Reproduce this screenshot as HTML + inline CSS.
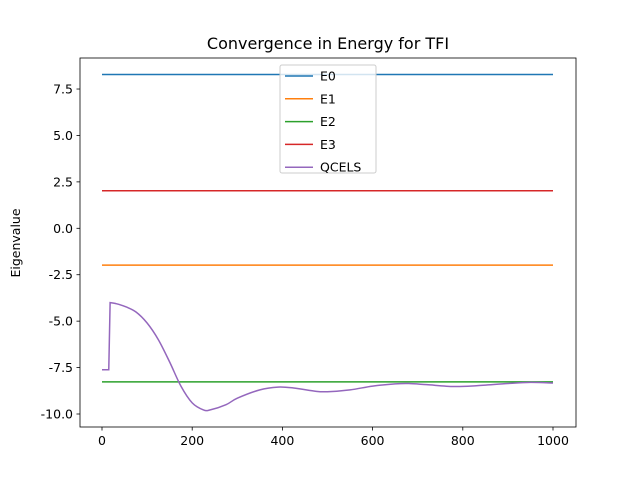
<!DOCTYPE html>
<html><head><meta charset="utf-8"><style>
body{margin:0;background:#fff}
svg text{font-family:"DejaVu Sans","Liberation Sans",sans-serif;fill:#000}
</style></head><body>
<svg id="chart" width="640" height="480" xmlns="http://www.w3.org/2000/svg">
<rect width="640" height="480" fill="#fff"/>
<text x="328" y="49" font-size="16" text-anchor="middle">Convergence in Energy for TFI</text>
<text transform="translate(20,243) rotate(-90)" font-size="12.5" text-anchor="middle">Eigenvalue</text>
<g id="plot"></g>
</svg>
<script>
const xTicks=[0,200,400,600,800,1000];
const yTicks=[-10,-7.5,-5,-2.5,0,2.5,5,7.5];
const levelNames=["E0","E1","E2","E3"];
const levelValues=[8.28,-1.98,-8.27,2.02];
const colors=["#1f77b4","#ff7f0e","#2ca02c","#d62728","#9467bd"];
const qX=[0,15,18,30,50,75,100,125,150,175,200,225,240,275,300,350,390,425,475,500,550,600,650,680,720,780,830,900,950,1000];
const qY=[-7.62,-7.62,-4.0,-4.05,-4.2,-4.5,-5.1,-6.0,-7.2,-8.5,-9.4,-9.78,-9.78,-9.5,-9.15,-8.7,-8.55,-8.6,-8.78,-8.8,-8.7,-8.5,-8.38,-8.36,-8.42,-8.52,-8.48,-8.36,-8.3,-8.33];
const NS="http://www.w3.org/2000/svg";
const L=80,R=576,T=58,B=427;
const sx=v=>102+v*(553-102)/1000;
const sy=v=>228.3-v*18.57;
const g=document.getElementById('plot');
function mk(t,a,p){const e=document.createElementNS(NS,t);for(const k in a)e.setAttribute(k,a[k]);(p||g).appendChild(e);return e;}
levelValues.forEach((v,i)=>{
  const l=mk('line',{x1:sx(0),x2:sx(1000),y1:sy(v),y2:sy(v),stroke:colors[i],'stroke-width':1.5});
  
  
});
// smooth path (catmull-rom) starting after the jump
const pts=qX.map((x,i)=>[sx(x),sy(qY[i])]);
let d='M'+pts[0]+' L'+pts[1]+' L'+pts[2];
for(let i=2;i<pts.length-1;i++){
  const p0=pts[Math.max(i-1,2)],p1=pts[i],p2=pts[i+1],p3=pts[Math.min(i+2,pts.length-1)];
  const c1=[p1[0]+(p2[0]-p0[0])/6,p1[1]+(p2[1]-p0[1])/6];
  const c2=[p2[0]-(p3[0]-p1[0])/6,p2[1]-(p3[1]-p1[1])/6];
  d+=' C'+c1+' '+c2+' '+p2;
}
const p=mk('path',{d:d,fill:'none',stroke:colors[4],'stroke-width':1.5});


const fr=mk('rect',{x:L,y:T,width:R-L,height:B-T,fill:'none',stroke:'#000','stroke-width':0.8});


xTicks.forEach(v=>{
  mk('line',{x1:sx(v),x2:sx(v),y1:B,y2:B+3.5,stroke:'#000','stroke-width':0.8});
  const t=mk('text',{x:sx(v),y:B+18,'font-size':12.5,'text-anchor':'middle'});t.textContent=v;
  
  
});
yTicks.forEach(v=>{
  mk('line',{x1:L-3.5,x2:L,y1:sy(v),y2:sy(v),stroke:'#000','stroke-width':0.8});
  const t=mk('text',{x:L-7,y:sy(v)+4.5,'font-size':12.5,'text-anchor':'end'});t.textContent=v.toFixed(1);
  
  
});
const lg=mk('g',{});


mk('rect',{x:280,y:65,width:96,height:108,rx:2,fill:'#fff','fill-opacity':0.8,stroke:'#ccc'},lg);
const names=levelNames.concat(["QCELS"]);
names.forEach((n,i)=>{
  const y=76+i*22.8;
  mk('line',{x1:285,x2:313,y1:y,y2:y,stroke:colors[i],'stroke-width':1.5},lg);
  const t=mk('text',{x:320,y:y+4.5,'font-size':12.5},lg);t.textContent=n;
  
  
});
</script>
</body></html>
